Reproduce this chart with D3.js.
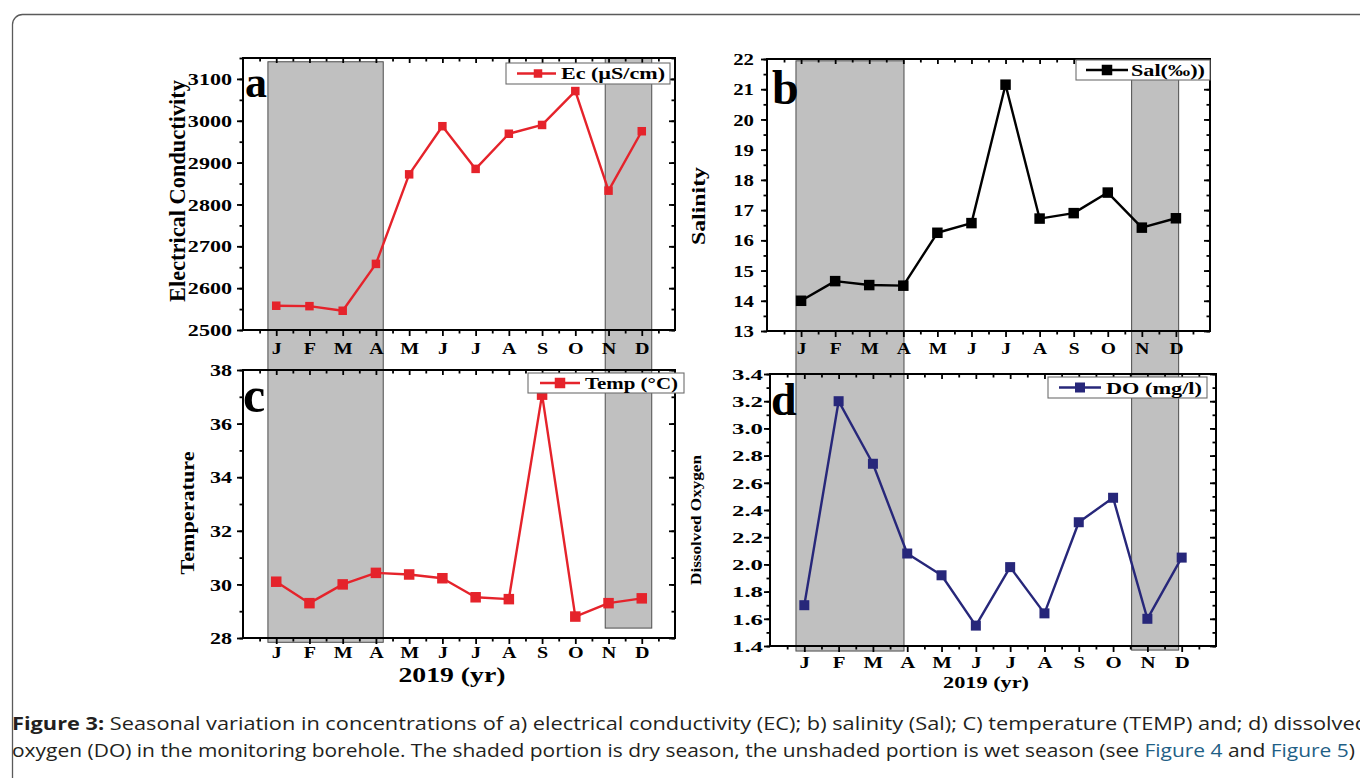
<!DOCTYPE html>
<html><head><meta charset="utf-8">
<script src="https://cdn.jsdelivr.net/npm/d3@7"></script>
<style>body{margin:0;background:#fff;} svg{display:block;}</style>
</head><body>
<svg id="fig" width="1360" height="778"></svg>
<script>
// ---------- data ----------
const months = ["J","F","M","A","M","J","J","A","S","O","N","D"];
const monthIndex = [1,2,3,4,5,6,7,8,9,10,11,12];
const ecValues   = [2558, 2557, 2546, 2658, 2872, 2987, 2885, 2969, 2990, 3071, 2833, 2975];
const salValues  = [14.0, 14.65, 14.52, 14.5, 16.25, 16.57, 21.15, 16.72, 16.9, 17.58, 16.42, 16.73];
const tempValues = [30.1, 29.3, 30.0, 30.43, 30.37, 30.23, 29.52, 29.45, 37.08, 28.8, 29.3, 29.48];
const doValues   = [1.70, 3.20, 2.74, 2.08, 1.92, 1.55, 1.98, 1.64, 2.31, 2.49, 1.60, 2.05];
const ecTicks   = [2500, 2600, 2700, 2800, 2900, 3000, 3100];
const salTicks  = [13, 14, 15, 16, 17, 18, 19, 20, 21, 22];
const tempTicks = [28, 30, 32, 34, 36, 38];
const doTicks   = [1.4, 1.6, 1.8, 2.0, 2.2, 2.4, 2.6, 2.8, 3.0, 3.2, 3.4];
// dry season shading (month units), left column (a,c) and right column (b,d)
const dryLeft  = [{m0:0.75, m1:4.22, top:3141, bottom:27.84}, {m0:10.9, m1:12.3, top:3150, bottom:28.37}];
const dryRight = [{m0:0.85, m1:4.02, top:21.94, bottom:1.363}, {m0:10.7, m1:12.08, top:21.94, bottom:1.37}];

const svg = d3.select("#fig");
const SERIF = "'Liberation Serif','Times New Roman',serif";

function stretch(sel, sx){
  sel.each(function(){
    const w = this.getComputedTextLength();
    d3.select(this).attr("textLength", w*sx).attr("lengthAdjust","spacingAndGlyphs");
  });
}
function fit(sel, w){ sel.attr("textLength", w).attr("lengthAdjust","spacingAndGlyphs"); }

// outer frame
svg.append("rect").attr("x",12.5).attr("y",14.5).attr("width",1420).attr("height",820)
  .attr("rx",10).attr("fill","none").attr("stroke","#5a5a5a").attr("stroke-width",1.3);

// ---------- panel configs ----------
const P = {
  a:{x0:243,x1:675,yb:330,yt:58,dom:[2500,3150],ticks:ecTicks,minor:d3.range(2500,3151,50),fmt:d=>d,
     vals:ecValues,color:"#e5232b",ms:8.5,lw:2.4,tickFont:16,tickSx:1.38,tickRight:232,
     monFont:17,monSx:1.18,monOff:24},
  b:{x0:767,x1:1210,yb:331,yt:59,dom:[13,22],ticks:salTicks,minor:d3.range(13,22.01,0.5),fmt:d=>d,
     vals:salValues,color:"#000000",ms:10.5,lw:2.4,tickFont:16,tickSx:1.3,tickRight:754,
     monFont:16,monSx:1.22,monOff:23},
  c:{x0:243,x1:675,yb:638,yt:370,dom:[28,38],ticks:tempTicks,minor:d3.range(28,38.01,1),fmt:d=>d,
     vals:tempValues,color:"#e5232b",ms:10.5,lw:2.4,tickFont:16,tickSx:1.38,tickRight:232,
     monFont:17,monSx:1.18,monOff:20},
  d:{x0:770,x1:1216,yb:646,yt:374,dom:[1.4,3.4],ticks:doTicks,minor:d3.range(14,35,1).map(v=>v/10),fmt:d=>d.toFixed(1),
     vals:doValues,color:"#27277a",ms:10,lw:2.4,tickFont:15,tickSx:1.65,tickRight:763,
     monFont:16,monSx:1.3,monOff:22}
};
for (const k in P){
  const c = P[k];
  c.x = d3.scaleLinear().domain([0,13]).range([c.x0,c.x1]);
  c.y = d3.scaleLinear().domain(c.dom).range([c.yb,c.yt]);
}

// ---------- shading ----------
const shade = svg.append("g");
shade.selectAll("rect.l").data(dryLeft).join("rect")
  .attr("x",d=>P.a.x(d.m0)).attr("width",d=>P.a.x(d.m1)-P.a.x(d.m0))
  .attr("y",d=>P.a.y(d.top)).attr("height",d=>P.c.y(d.bottom)-P.a.y(d.top))
  .attr("fill","#c0c0c0").attr("stroke","#4d4d4d").attr("stroke-width",1);
shade.selectAll("rect.r").data(dryRight).join("rect")
  .attr("x",d=>P.b.x(d.m0)).attr("width",d=>P.b.x(d.m1)-P.b.x(d.m0))
  .attr("y",d=>P.b.y(d.top)).attr("height",d=>P.d.y(d.bottom)-P.b.y(d.top))
  .attr("fill","#c0c0c0").attr("stroke","#4d4d4d").attr("stroke-width",1);

// ---------- axes ----------
function drawAxes(c){
  const g = svg.append("g");
  const halfMonths = d3.range(0.5,13,1);
  const styleAx = s => { s.select(".domain").remove(); s.selectAll(".tick line").attr("stroke","#000").attr("stroke-width",1.8); };
  g.append("g").attr("transform",`translate(${c.x0},0)`)
    .call(d3.axisLeft(c.y).tickValues(c.minor).tickSize(3.5).tickFormat("")).call(styleAx);
  const la = g.append("g").attr("transform",`translate(${c.x0},0)`)
    .call(d3.axisLeft(c.y).tickValues(c.ticks).tickSize(6).tickFormat(c.fmt)).call(styleAx);
  la.selectAll("text").attr("font-family",SERIF).attr("font-weight","bold").attr("font-size",c.tickFont)
    .attr("fill","#000").attr("text-anchor","end").attr("x",c.tickRight-c.x0).attr("dy","0.35em");
  stretch(la.selectAll("text"), c.tickSx);
  g.append("g").attr("transform",`translate(${c.x1},0)`)
    .call(d3.axisRight(c.y).tickValues(c.minor).tickSize(-3.5).tickFormat("")).call(styleAx);
  g.append("g").attr("transform",`translate(${c.x1},0)`)
    .call(d3.axisRight(c.y).tickValues(c.ticks).tickSize(-6).tickFormat("")).call(styleAx);
  g.append("g").attr("transform",`translate(0,${c.yt})`)
    .call(d3.axisTop(c.x).tickValues(halfMonths).tickSize(-3.5).tickFormat("")).call(styleAx);
  g.append("g").attr("transform",`translate(0,${c.yt})`)
    .call(d3.axisTop(c.x).tickValues(monthIndex).tickSize(-5).tickFormat("")).call(styleAx);
  g.append("g").attr("transform",`translate(0,${c.yb})`)
    .call(d3.axisBottom(c.x).tickValues(halfMonths).tickSize(3.5).tickFormat("")).call(styleAx);
  const ba = g.append("g").attr("transform",`translate(0,${c.yb})`)
    .call(d3.axisBottom(c.x).tickValues(monthIndex).tickSize(6).tickFormat(d=>months[d-1])).call(styleAx);
  ba.selectAll("text").attr("font-family",SERIF).attr("font-weight","bold").attr("font-size",c.monFont)
    .attr("fill","#000").attr("y",c.monOff).attr("dy",0);
  stretch(ba.selectAll("text"), c.monSx);
  g.append("rect").attr("x",c.x0).attr("y",c.yt).attr("width",c.x1-c.x0).attr("height",c.yb-c.yt)
    .attr("fill","none").attr("stroke","#000").attr("stroke-width",2);
}
["a","b","c","d"].forEach(k=>drawAxes(P[k]));

// ---------- series ----------
function drawSeries(c){
  const g = svg.append("g");
  const line = d3.line().x((d,i)=>c.x(monthIndex[i])).y(d=>c.y(d));
  g.append("path").datum(c.vals).attr("d",line).attr("fill","none")
    .attr("stroke",c.color).attr("stroke-width",c.lw).attr("stroke-linejoin","round");
  g.selectAll("rect").data(c.vals).join("rect")
    .attr("x",(d,i)=>c.x(monthIndex[i])-c.ms/2).attr("y",d=>c.y(d)-c.ms/2)
    .attr("width",c.ms).attr("height",c.ms).attr("fill",c.color);
}
["a","b","c","d"].forEach(k=>drawSeries(P[k]));

// ---------- legends ----------
function legend(c, box, lx0, lx1, mx, tx, tw, tb, label){
  const g = svg.append("g");
  g.append("rect").attr("x",box[0]).attr("y",box[1]).attr("width",box[2]-box[0]).attr("height",box[3]-box[1])
    .attr("fill","#fff").attr("stroke","#6e6e6e").attr("stroke-width",1.1);
  const cy = (box[1]+box[3])/2;
  g.append("line").attr("x1",lx0).attr("x2",lx1).attr("y1",cy).attr("y2",cy)
    .attr("stroke",c.color).attr("stroke-width",c.lw);
  g.append("rect").attr("x",mx-c.ms/2).attr("y",cy-c.ms/2).attr("width",c.ms).attr("height",c.ms).attr("fill",c.color);
  const t = g.append("text").attr("x",tx).attr("y",tb).text(label)
    .attr("font-family",SERIF).attr("font-weight","bold").attr("font-size",17).attr("fill","#000");
  fit(t, tw);
}
legend(P.a,[506,63,670,84],517,556,538,561,104,79,"Ec (µS/cm)");
legend(P.b,[1076,60,1210,80],1086,1128,1107,1131,74,76,"Sal(‰))");
legend(P.c,[528,373,684,393],540,580,560,585,93,389,"Temp (°C)");
legend(P.d,[1048,377,1207,398],1059,1101,1080,1106,96,394,"DO (mg/l)");

// ---------- panel letters ----------
const letters = [["a",245,97,44],["b",772,104,48],["c",243,412,50],["d",771,415,46]];
svg.selectAll("text.letter").data(letters).join("text").attr("class","letter")
  .attr("x",d=>d[1]).attr("y",d=>d[2]).attr("font-size",d=>d[3]).text(d=>d[0])
  .attr("font-family",SERIF).attr("font-weight","bold").attr("fill","#000");

// ---------- axis titles ----------
const yTitles = [["Electrical Conductivity",185,191,24,222],["Salinity",705,206,19,78],
                 ["Temperature",194,513,19,123],["Dissolved Oxygen",701,520,14,130]];
yTitles.forEach(d=>{
  const t = svg.append("text").attr("transform",`translate(${d[1]},${d[2]}) rotate(-90)`)
    .attr("text-anchor","middle").attr("font-family",SERIF).attr("font-weight","bold")
    .attr("font-size",d[3]).attr("fill","#000").text(d[0]);
  fit(t,d[4]);
});
const xTitles = [["2019 (yr)",452,682,21,107],["2019 (yr)",986,688,17,86]];
xTitles.forEach(d=>{
  const t = svg.append("text").attr("x",d[1]).attr("y",d[2]).attr("text-anchor","middle")
    .attr("font-family",SERIF).attr("font-weight","bold").attr("font-size",d[3]).attr("fill","#000").text(d[0]);
  fit(t,d[4]);
});

// ---------- caption ----------
const cap = svg.append("g").attr("font-family","'Open Sans',sans-serif").attr("font-size",18.5).attr("fill","#231f20");
const l1 = cap.append("text").attr("x",12).attr("y",730);
l1.append("tspan").attr("font-weight","bold").text("Figure 3:");
l1.append("tspan").text(" Seasonal variation in concentrations of a) electrical conductivity (EC); b) salinity (Sal); C) temperature (TEMP) and; d) dissolved");
const l2 = cap.append("text").attr("x",12).attr("y",757);
l2.append("tspan").text("oxygen (DO) in the monitoring borehole. The shaded portion is dry season, the unshaded portion is wet season (see ");
l2.append("tspan").attr("fill","#1f5f86").text("Figure 4");
l2.append("tspan").text(" and ");
l2.append("tspan").attr("fill","#1f5f86").text("Figure 5");
l2.append("tspan").text(")");
fit(l1, 1356); fit(l2, 1343);
</script>
</body></html>
